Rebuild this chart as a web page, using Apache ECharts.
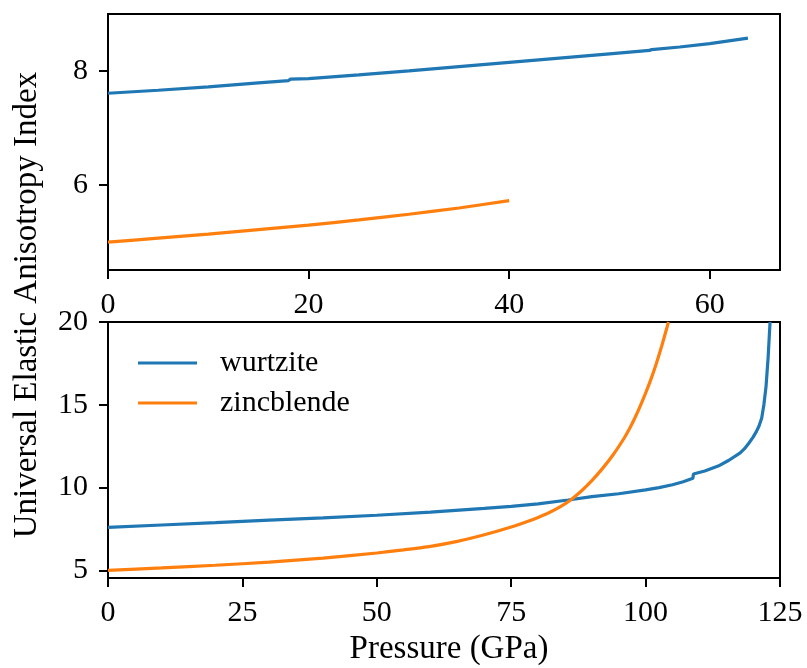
<!DOCTYPE html>
<html>
<head>
<meta charset="utf-8">
<script src="https://cdn.jsdelivr.net/npm/echarts@6/dist/echarts.min.js"></script>
<style>
html,body{margin:0;padding:0;background:#fff;}
#chart{width:807px;height:668px;}
</style>
</head>
<body>
<div id="chart"></div>
<script>
// ---- Data ----
// Top panel
const topWurtziteP = [0, 5, 10, 15, 18, 18.2, 20, 25, 30, 35, 40, 45, 50, 54, 54.2, 57, 60, 63.8];
const topWurtziteU = [7.607, 7.66, 7.72, 7.79, 7.83, 7.855, 7.865, 7.93, 8.0, 8.075, 8.15, 8.225, 8.30, 8.36, 8.375, 8.42, 8.48, 8.575];
const topZincP = [0, 5, 10, 15, 20, 25, 30, 35, 40];
const topZincU = [4.99, 5.06, 5.13, 5.21, 5.29, 5.38, 5.48, 5.59, 5.72];

// Bottom panel
const botWurtziteP = [0, 10, 20, 30, 40, 50, 60, 70, 75, 80, 85.6, 90, 95, 100, 102.5, 105, 107, 108.8, 108.9, 111, 113.5, 115.5, 117.6, 118.4, 119.2, 120, 120.6, 121.1, 121.6, 122, 122.4, 122.8, 123.15];
const botWurtziteU = [7.60, 7.74, 7.88, 8.03, 8.17, 8.33, 8.52, 8.74, 8.87, 9.02, 9.25, 9.45, 9.63, 9.86, 10.0, 10.17, 10.35, 10.56, 10.82, 11.0, 11.3, 11.65, 12.1, 12.35, 12.68, 13.05, 13.38, 13.72, 14.2, 15.0, 16.1, 17.9, 20.0];
const botZincP = [0, 10, 20, 30, 40, 50, 55, 60, 65, 70, 75, 78, 80, 82, 84, 86, 88, 90, 92, 94, 96, 97, 98, 99, 100, 101, 102, 103, 104, 104.25];
const botZincU = [5.00, 5.15, 5.31, 5.50, 5.74, 6.05, 6.24, 6.45, 6.75, 7.15, 7.62, 7.95, 8.20, 8.48, 8.82, 9.24, 9.78, 10.42, 11.16, 12.0, 12.98, 13.55, 14.2, 14.92, 15.7, 16.55, 17.5, 18.55, 19.7, 20.0];

const seriesNames = ['wurtzite', 'zincblende'];
const topXTicks = [0, 20, 40, 60];
const topYTicks = [6, 8];
const botYTicks = [5, 10, 15, 20];
const xLabel = 'Pressure (GPa)';
const yLabel = 'Universal Elastic Anisotropy Index';

// ---- Chart ----
const BLUE = '#1f77b4', ORANGE = '#ff7f0e';
const FONT = "'Liberation Serif', 'Times New Roman', serif";
const zip = (a, b) => a.map((v, i) => [v, b[i]]);

const chart = echarts.init(document.getElementById('chart'), null, {renderer: 'canvas'});

function xAxisCfg(gridIndex, min, max, extra) {
  return Object.assign({
    type: 'value', gridIndex, min, max, position: 'bottom',
    axisLine: {show: true, onZero: false, lineStyle: {color: '#000', width: 2}},
    axisTick: {show: true, length: 9, lineStyle: {color: '#000', width: 2}},
    axisLabel: {color: '#000', fontFamily: FONT, fontSize: 30, margin: 20},
    splitLine: {show: false}
  }, extra || {});
}
function yAxisCfg(gridIndex, min, max, ticks) {
  return {
    type: 'value', gridIndex, min, max,
    axisLine: {show: true, onZero: false, lineStyle: {color: '#000', width: 2}},
    axisTick: {show: true, length: 9, lineStyle: {color: '#000', width: 2}, customValues: ticks},
    axisLabel: {color: '#000', fontFamily: FONT, fontSize: 30, margin: 20, customValues: ticks},
    splitLine: {show: false}
  };
}

const lineSeries = (name, xi, yi, data, color, smooth) => ({
  name, type: 'line', xAxisIndex: xi, yAxisIndex: yi, data,
  showSymbol: false, symbol: 'none', clip: true,
  smooth: smooth || false,
  lineStyle: {color, width: 3.2}, itemStyle: {color},
  emphasis: {disabled: true}, animation: false
});

chart.setOption({
  animation: false,
  backgroundColor: '#fff',
  grid: [
    {left: 108, top: 14, width: 672, height: 256, show: true, borderColor: '#000', borderWidth: 2, backgroundColor: 'transparent'},
    {left: 108, top: 322, width: 672, height: 256, show: true, borderColor: '#000', borderWidth: 2, backgroundColor: 'transparent'}
  ],
  xAxis: [
    xAxisCfg(0, 0, 67, {
      axisTick: {show: true, length: 9, lineStyle: {color: '#000', width: 2}, customValues: topXTicks},
      axisLabel: {color: '#000', fontFamily: FONT, fontSize: 30, margin: 20, customValues: topXTicks}
    }),
    xAxisCfg(1, 0, 125, {interval: 25})
  ],
  yAxis: [
    yAxisCfg(0, 4.5, 9.0, topYTicks),
    yAxisCfg(1, 4.54, 20, botYTicks)
  ],
  legend: {
    data: seriesNames.map(n => ({name: n, icon: 'rect'})),
    orient: 'vertical',
    left: 133, top: 343,
    itemWidth: 59, itemHeight: 3.2, itemGap: 10,
    selectedMode: false,
    textStyle: {fontFamily: FONT, fontSize: 30, color: '#000', padding: [0, 0, 0, 18], lineHeight: 30}
  },
  series: [
    lineSeries(seriesNames[0], 0, 0, zip(topWurtziteP, topWurtziteU), BLUE),
    lineSeries(seriesNames[1], 0, 0, zip(topZincP, topZincU), ORANGE, 0.2),
    lineSeries(seriesNames[0], 1, 1, zip(botWurtziteP, botWurtziteU), BLUE),
    lineSeries(seriesNames[1], 1, 1, zip(botZincP, botZincU), ORANGE, 0.2)
  ],
  graphic: [
    {type: 'text', x: 27, y: 305, rotation: Math.PI / 2,
     style: {text: yLabel, font: "33px 'Liberation Serif', serif", fill: '#000', align: 'center', verticalAlign: 'middle'}},
    {type: 'text', x: 449, y: 649,
     style: {text: xLabel, font: "33px 'Liberation Serif', serif", fill: '#000', align: 'center', verticalAlign: 'middle'}}
  ]
});
</script>
</body>
</html>
